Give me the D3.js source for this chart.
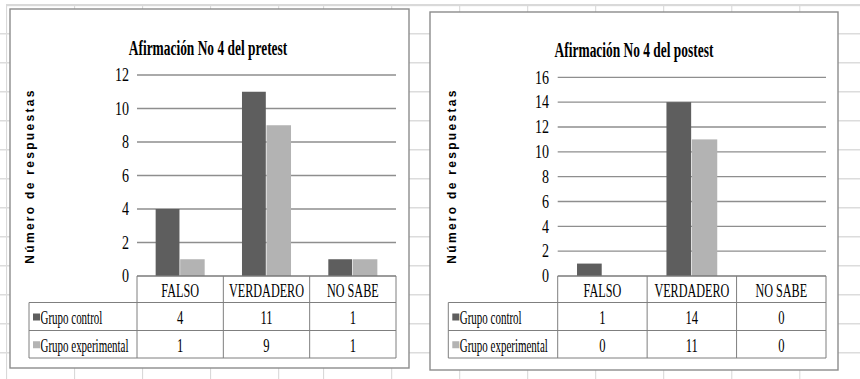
<!DOCTYPE html>
<html>
<head>
<meta charset="utf-8">
<script src="https://cdn.jsdelivr.net/npm/d3@7"></script>
<style>
  body { margin: 0; background: #fff; }
  svg { display: block; }
</style>
</head>
<body>
<div id="chart"></div>
<script>
// data
const categories = ['FALSO', 'VERDADERO', 'NO SABE'];
const seriesNames = ['Grupo control', 'Grupo experimental'];
const seriesColors = ['#5e5e5e', '#b3b3b3'];

const pretestControl = [4, 11, 1];
const pretestExperimental = [1, 9, 1];
const pretestTicks = [0, 2, 4, 6, 8, 10, 12];

const postestControl = [1, 14, 0];
const postestExperimental = [0, 11, 0];
const postestTicks = [0, 2, 4, 6, 8, 10, 12, 14, 16];

const width = 860;
const height = 379;

const svg = d3.select('#chart')
    .append('svg')
        .attr('width', width)
        .attr('height', height);

// spreadsheet background grid
const colLines = [6.6, 74.6, 142.6, 210.6, 278.7, 323.6, 391.7, 459.7, 527.7, 595.7, 663.7, 731.8, 799.8];
const rowLines = d3.range(1, 13).map(k => 4.8 + 29 * k);

svg.append('g')
    .selectAll('line')
    .data(colLines)
    .join('line')
        .attr('x1', d => d).attr('x2', d => d)
        .attr('y1', 4).attr('y2', height)
        .attr('stroke', '#d6d6d6')
        .attr('stroke-width', 1);

svg.append('g')
    .selectAll('line')
    .data(rowLines)
    .join('line')
        .attr('x1', 0).attr('x2', width)
        .attr('y1', d => d).attr('y2', d => d)
        .attr('stroke', '#dcdcdc')
        .attr('stroke-width', 1.5);

svg.append('rect')
    .attr('x', 6).attr('y', 4)
    .attr('width', width - 6).attr('height', 2.2)
    .attr('fill', '#d9d9d9');

// condensed serif text helper
function condensedText(g, str, x, y, opts) {
    return g.append('text')
        .attr('transform', `translate(${x},${y}) scale(${opts.sx},1)`)
        .attr('text-anchor', opts.anchor || 'middle')
        .attr('dy', opts.dy || '0.35em')
        .style('font-family', '"Liberation Serif", "Times New Roman", serif')
        .style('font-size', opts.size + 'px')
        .style('font-weight', opts.weight || 'normal')
        .style('fill', '#000')
        .text(str);
}

function drawChart(cfg) {
    const g = svg.append('g');

    // frame
    g.append('rect')
        .attr('x', cfg.frame.x).attr('y', cfg.frame.y)
        .attr('width', cfg.frame.w).attr('height', cfg.frame.h)
        .attr('fill', '#fff')
        .attr('stroke', '#8c8c8c')
        .attr('stroke-width', 1.4);

    // title
    condensedText(g, cfg.title, cfg.titleX, cfg.titleY, {size: 22, weight: 'bold', sx: 0.61, dy: 0});

    // y-axis title
    g.append('text')
        .attr('transform', `translate(${cfg.yTitleX},${cfg.yTitleY}) rotate(-90)`)
        .attr('text-anchor', 'middle')
        .attr('dy', '0.35em')
        .style('font-family', '"Liberation Sans", Arial, sans-serif')
        .style('font-size', '12px')
        .style('font-weight', 'bold')
        .style('letter-spacing', '2.3px')
        .text('Número de respuestas');

    const x = d3.scaleBand()
        .domain(categories)
        .range([cfg.plotLeft, cfg.plotRight])
        .padding(0);

    const bw = x.bandwidth();
    const barW = bw * 0.284;

    const x1 = d3.scaleBand()
        .domain(seriesNames)
        .range([(bw - 2 * barW) / 2, (bw + 2 * barW) / 2])
        .padding(0);

    const y = d3.scaleLinear()
        .domain([0, d3.max(cfg.ticks)])
        .range([cfg.yZero, cfg.yTop]);

    // gridlines
    g.append('g')
        .selectAll('line')
        .data(cfg.ticks.filter(t => t > 0))
        .join('line')
            .attr('x1', cfg.plotLeft).attr('x2', cfg.plotRight)
            .attr('y1', d => y(d)).attr('y2', d => y(d))
            .attr('stroke', '#8e8e8e')
            .attr('stroke-width', 1.3);

    // tick labels
    cfg.ticks.forEach(t => {
        condensedText(g, t, cfg.tickX, y(t), {size: 18, sx: 0.78, anchor: 'end'});
    });

    // bars
    const rows = seriesNames.map((name, i) => ({name, color: seriesColors[i], values: cfg.values[i]}));

    rows.forEach((row, i) => {
        g.append('g')
            .selectAll('rect')
            .data(categories.map((c, j) => ({cat: c, value: row.values[j]})))
            .join('rect')
                .attr('x', d => x(d.cat) + x1(row.name))
                .attr('y', d => y(d.value))
                .attr('width', i === 0 ? x1.bandwidth() - 0.7 : x1.bandwidth())
                .attr('height', d => y(0) - y(d.value))
                .attr('fill', row.color);
    });

    // data table
    const tableLines = g.append('g')
        .attr('stroke', '#7f7f7f')
        .attr('stroke-width', 1);

    const rowY = [cfg.yZero, cfg.yZero + 26.5, cfg.yZero + 54.5, cfg.yZero + 82];

    // zero axis line
    tableLines.append('line')
        .attr('x1', cfg.plotLeft).attr('x2', cfg.plotRight)
        .attr('y1', rowY[0]).attr('y2', rowY[0])
        .attr('stroke', '#7a7a7a')
        .attr('stroke-width', 1.3);

    [rowY[1], rowY[2], rowY[3]].forEach(yy => {
        tableLines.append('line')
            .attr('x1', cfg.tableLeft).attr('x2', cfg.plotRight)
            .attr('y1', yy).attr('y2', yy);
    });

    tableLines.append('line')
        .attr('x1', cfg.tableLeft).attr('x2', cfg.tableLeft)
        .attr('y1', rowY[1]).attr('y2', rowY[3]);

    categories.forEach(c => {
        tableLines.append('line')
            .attr('x1', x(c)).attr('x2', x(c))
            .attr('y1', rowY[0]).attr('y2', rowY[3]);
    });
    tableLines.append('line')
        .attr('x1', cfg.plotRight).attr('x2', cfg.plotRight)
        .attr('y1', rowY[0]).attr('y2', rowY[3]);

    // category labels
    categories.forEach(c => {
        condensedText(g, c, x(c) + bw / 2, (rowY[0] + rowY[1]) / 2 + 1, {size: 19, sx: 0.64});
    });

    // series rows
    rows.forEach((row, i) => {
        const cy = (rowY[i + 1] + rowY[i + 2]) / 2 + 1;
        g.append('rect')
            .attr('x', cfg.tableLeft + 4)
            .attr('y', cy - 4)
            .attr('width', 7).attr('height', 7)
            .attr('fill', row.color);
        condensedText(g, row.name, cfg.tableLeft + 11.5, cy, {size: 18, sx: 0.61, anchor: 'start'});
        categories.forEach((c, j) => {
            condensedText(g, row.values[j], x(c) + bw / 2, cy, {size: 18, sx: 0.7});
        });
    });
}

drawChart({
    title: 'Afirmación No 4 del pretest',
    values: [pretestControl, pretestExperimental],
    ticks: pretestTicks,
    frame: {x: 10, y: 9, w: 399, h: 359},
    plotLeft: 137, plotRight: 396, yTop: 75, yZero: 276,
    tickX: 129, tableLeft: 29,
    titleX: 208, titleY: 47,
    yTitleX: 30, yTitleY: 176
});

drawChart({
    title: 'Afirmación No 4 del postest',
    values: [postestControl, postestExperimental],
    ticks: postestTicks,
    frame: {x: 430, y: 12, w: 408, h: 358},
    plotLeft: 557.7, plotRight: 826, yTop: 77.3, yZero: 276,
    tickX: 549, tableLeft: 448.3,
    titleX: 634, titleY: 49.5,
    yTitleX: 452, yTitleY: 176
});
</script>
</body>
</html>
